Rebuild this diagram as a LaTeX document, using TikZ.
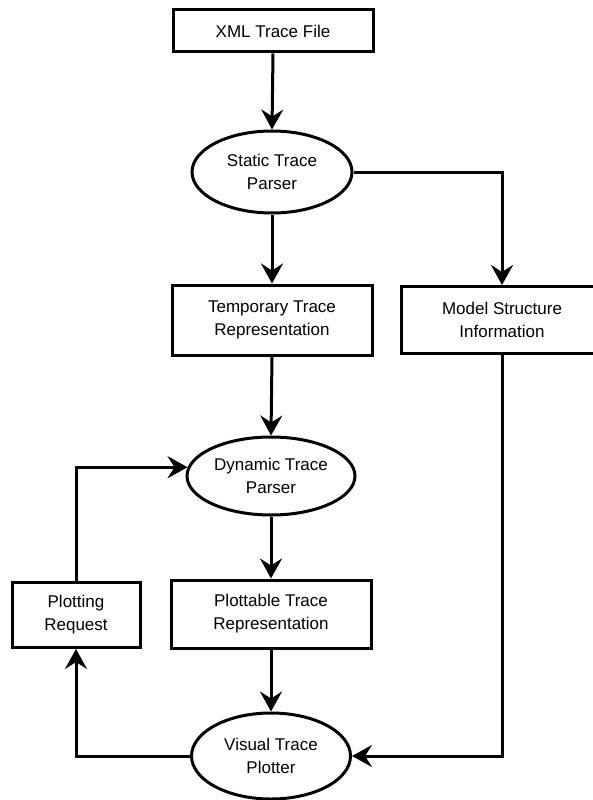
\documentclass[tikz,border=0pt]{standalone}
\usepackage{fontspec}
\setmainfont{Liberation Sans}
\usetikzlibrary{shapes.geometric,arrows.meta,calc}

\tikzset{
  every node/.style={font=\fontsize{17}{23}\selectfont, align=center, inner sep=0pt, line width=3pt},
  procbox/.style={draw, rectangle},
  procoval/.style={draw, ellipse},
  flow/.style={line width=3pt, -{Stealth[length=20pt, width=22pt, inset=7pt]}},
}

\begin{document}
\begin{tikzpicture}[x=1pt, y=-1pt]
  \useasboundingbox (0,0) rectangle (593,800);

  % processing stages
  \node[procbox, minimum width=200pt, minimum height=42pt] (xml) at (273,31) {XML Trace File};
  \node[procoval, minimum width=160pt, minimum height=82pt] (stp) at (272,172) {Static Trace\\Parser};
  \node[procbox, minimum width=200pt, minimum height=70pt] (tmp) at (272,320) {Temporary Trace\\Representation};
  \node[procbox, minimum width=202pt, minimum height=67pt] (msi) at (502,320) {Model Structure\\Information};
  \node[procoval, minimum width=168pt, minimum height=78pt] (dtp) at (271,476) {Dynamic Trace\\Parser};
  \node[procbox, minimum width=128pt, minimum height=65pt] (req) at (76,615) {Plotting\\Request};
  \node[procbox, minimum width=200pt, minimum height=68pt] (plt) at (271,614) {Plottable Trace\\Representation};
  \node[procoval, minimum width=159pt, minimum height=86pt] (vtp) at (271,756) {Visual Trace\\Plotter};

  % data flow
  \draw[flow] (xml.south) -- (stp.north);
  \draw[flow] (stp.south) -- (tmp.north);
  \draw[flow] (stp.east) -| (msi.north);
  \draw[flow] (tmp.south) -- (dtp.north);
  \draw[flow] (dtp.south) -- (plt.north);
  \draw[flow] (plt.south) -- (vtp.north);
  \draw[flow] (msi.south) |- (vtp.east);
  \draw[flow] (vtp.west) -| (req.south);
  \draw[flow] (req.north) |- (dtp.174);
\end{tikzpicture}
\end{document}
